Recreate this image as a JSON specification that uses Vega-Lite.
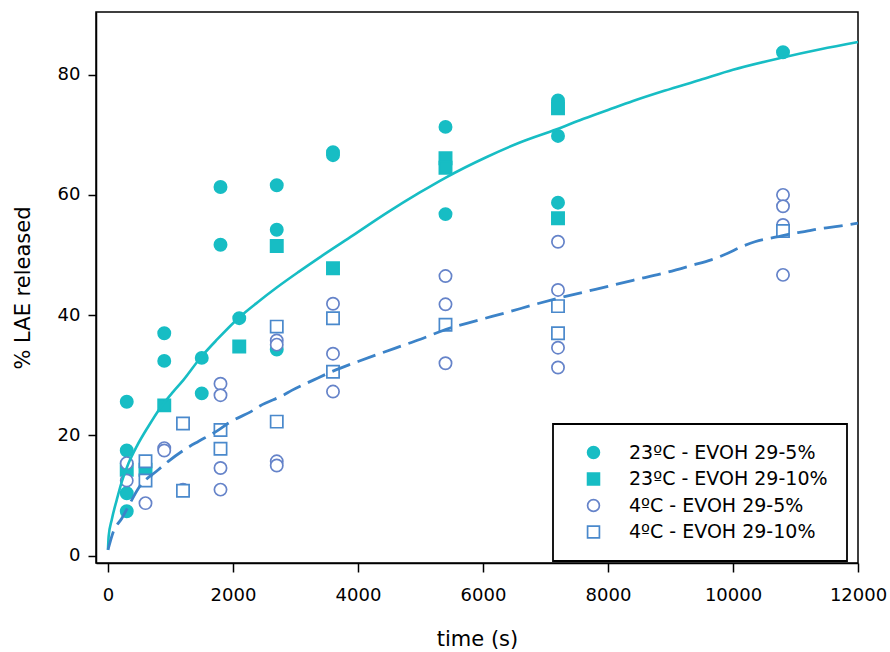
{
  "$schema": "https://vega.github.io/schema/vega-lite/v6.json",
  "width": 762,
  "height": 551,
  "autosize": "none",
  "padding": {"left": 96, "top": 12, "right": 32, "bottom": 89},
  "background": "white",
  "config": {
    "font": "DejaVu Sans",
    "view": {"stroke": "black", "strokeWidth": 1.5},
    "legend": {"strokeWidth": 1.8},
    "axis": {
      "grid": false,
      "domainColor": "black",
      "domainWidth": 1.5,
      "tickColor": "black",
      "tickWidth": 1.5,
      "labelColor": "black",
      "titleColor": "black",
      "labelFont": "DejaVu Sans",
      "titleFont": "DejaVu Sans",
      "labelFontSize": 18,
      "titleFontSize": 21,
      "titleFontWeight": "normal"
    }
  },
  "datasets": {
    "points": [
      {"t": 300, "v": 25.6, "series": "23ºC - EVOH 29-5%"},
      {"t": 300, "v": 17.5, "series": "23ºC - EVOH 29-5%"},
      {"t": 300, "v": 10.4, "series": "23ºC - EVOH 29-5%"},
      {"t": 300, "v": 7.4, "series": "23ºC - EVOH 29-5%"},
      {"t": 900, "v": 37.0, "series": "23ºC - EVOH 29-5%"},
      {"t": 900, "v": 32.4, "series": "23ºC - EVOH 29-5%"},
      {"t": 1500, "v": 32.9, "series": "23ºC - EVOH 29-5%"},
      {"t": 1500, "v": 27.0, "series": "23ºC - EVOH 29-5%"},
      {"t": 1800, "v": 61.3, "series": "23ºC - EVOH 29-5%"},
      {"t": 1800, "v": 51.7, "series": "23ºC - EVOH 29-5%"},
      {"t": 2100, "v": 39.5, "series": "23ºC - EVOH 29-5%"},
      {"t": 2700, "v": 61.6, "series": "23ºC - EVOH 29-5%"},
      {"t": 2700, "v": 54.2, "series": "23ºC - EVOH 29-5%"},
      {"t": 2700, "v": 34.3, "series": "23ºC - EVOH 29-5%"},
      {"t": 3600, "v": 67.1, "series": "23ºC - EVOH 29-5%"},
      {"t": 3600, "v": 66.6, "series": "23ºC - EVOH 29-5%"},
      {"t": 5400, "v": 71.3, "series": "23ºC - EVOH 29-5%"},
      {"t": 5400, "v": 56.8, "series": "23ºC - EVOH 29-5%"},
      {"t": 7200, "v": 75.7, "series": "23ºC - EVOH 29-5%"},
      {"t": 7200, "v": 69.8, "series": "23ºC - EVOH 29-5%"},
      {"t": 7200, "v": 58.7, "series": "23ºC - EVOH 29-5%"},
      {"t": 10800, "v": 83.7, "series": "23ºC - EVOH 29-5%"},
      {"t": 300, "v": 14.3, "series": "23ºC - EVOH 29-10%"},
      {"t": 600, "v": 14.3, "series": "23ºC - EVOH 29-10%"},
      {"t": 900, "v": 25.0, "series": "23ºC - EVOH 29-10%"},
      {"t": 2100, "v": 34.8, "series": "23ºC - EVOH 29-10%"},
      {"t": 2700, "v": 51.5, "series": "23ºC - EVOH 29-10%"},
      {"t": 3600, "v": 47.8, "series": "23ºC - EVOH 29-10%"},
      {"t": 5400, "v": 66.1, "series": "23ºC - EVOH 29-10%"},
      {"t": 5400, "v": 64.5, "series": "23ºC - EVOH 29-10%"},
      {"t": 7200, "v": 74.4, "series": "23ºC - EVOH 29-10%"},
      {"t": 7200, "v": 56.1, "series": "23ºC - EVOH 29-10%"},
      {"t": 300, "v": 15.4, "series": "4ºC - EVOH 29-5%"},
      {"t": 300, "v": 12.5, "series": "4ºC - EVOH 29-5%"},
      {"t": 600, "v": 8.75, "series": "4ºC - EVOH 29-5%"},
      {"t": 900, "v": 17.9, "series": "4ºC - EVOH 29-5%"},
      {"t": 900, "v": 17.5, "series": "4ºC - EVOH 29-5%"},
      {"t": 1200, "v": 11.0, "series": "4ºC - EVOH 29-5%"},
      {"t": 1800, "v": 28.6, "series": "4ºC - EVOH 29-5%"},
      {"t": 1800, "v": 26.7, "series": "4ºC - EVOH 29-5%"},
      {"t": 1800, "v": 14.6, "series": "4ºC - EVOH 29-5%"},
      {"t": 1800, "v": 11.0, "series": "4ºC - EVOH 29-5%"},
      {"t": 2700, "v": 35.8, "series": "4ºC - EVOH 29-5%"},
      {"t": 2700, "v": 35.1, "series": "4ºC - EVOH 29-5%"},
      {"t": 2700, "v": 15.7, "series": "4ºC - EVOH 29-5%"},
      {"t": 2700, "v": 15.0, "series": "4ºC - EVOH 29-5%"},
      {"t": 3600, "v": 41.9, "series": "4ºC - EVOH 29-5%"},
      {"t": 3600, "v": 33.6, "series": "4ºC - EVOH 29-5%"},
      {"t": 3600, "v": 27.3, "series": "4ºC - EVOH 29-5%"},
      {"t": 5400, "v": 46.5, "series": "4ºC - EVOH 29-5%"},
      {"t": 5400, "v": 41.8, "series": "4ºC - EVOH 29-5%"},
      {"t": 5400, "v": 32.0, "series": "4ºC - EVOH 29-5%"},
      {"t": 7200, "v": 52.2, "series": "4ºC - EVOH 29-5%"},
      {"t": 7200, "v": 44.2, "series": "4ºC - EVOH 29-5%"},
      {"t": 7200, "v": 34.6, "series": "4ºC - EVOH 29-5%"},
      {"t": 7200, "v": 31.3, "series": "4ºC - EVOH 29-5%"},
      {"t": 10800, "v": 60.0, "series": "4ºC - EVOH 29-5%"},
      {"t": 10800, "v": 58.1, "series": "4ºC - EVOH 29-5%"},
      {"t": 10800, "v": 55.0, "series": "4ºC - EVOH 29-5%"},
      {"t": 10800, "v": 46.7, "series": "4ºC - EVOH 29-5%"},
      {"t": 600, "v": 15.7, "series": "4ºC - EVOH 29-10%"},
      {"t": 600, "v": 12.5, "series": "4ºC - EVOH 29-10%"},
      {"t": 1200, "v": 22.0, "series": "4ºC - EVOH 29-10%"},
      {"t": 1200, "v": 10.8, "series": "4ºC - EVOH 29-10%"},
      {"t": 1800, "v": 20.9, "series": "4ºC - EVOH 29-10%"},
      {"t": 1800, "v": 17.8, "series": "4ºC - EVOH 29-10%"},
      {"t": 2700, "v": 38.1, "series": "4ºC - EVOH 29-10%"},
      {"t": 2700, "v": 22.3, "series": "4ºC - EVOH 29-10%"},
      {"t": 3600, "v": 39.5, "series": "4ºC - EVOH 29-10%"},
      {"t": 3600, "v": 30.6, "series": "4ºC - EVOH 29-10%"},
      {"t": 5400, "v": 38.4, "series": "4ºC - EVOH 29-10%"},
      {"t": 7200, "v": 41.5, "series": "4ºC - EVOH 29-10%"},
      {"t": 7200, "v": 37.0, "series": "4ºC - EVOH 29-10%"},
      {"t": 10800, "v": 54.0, "series": "4ºC - EVOH 29-10%"}
    ],
    "fit23": [
      {"t": 0, "v": 1.0}, {"t": 10, "v": 3.2}, {"t": 60, "v": 6.0}, {"t": 140, "v": 9.3},
      {"t": 220, "v": 12.3}, {"t": 325, "v": 15.3}, {"t": 460, "v": 18.2}, {"t": 645, "v": 21.5},
      {"t": 830, "v": 24.5}, {"t": 1045, "v": 27.3}, {"t": 1205, "v": 29.2}, {"t": 1470, "v": 32.8},
      {"t": 1750, "v": 36.0}, {"t": 2085, "v": 39.5}, {"t": 2400, "v": 42.2}, {"t": 2700, "v": 44.6},
      {"t": 3050, "v": 47.2}, {"t": 3400, "v": 49.7}, {"t": 3925, "v": 53.3}, {"t": 4460, "v": 57.0},
      {"t": 4990, "v": 60.4}, {"t": 5390, "v": 62.8}, {"t": 6060, "v": 66.3}, {"t": 6590, "v": 68.7},
      {"t": 7180, "v": 70.9}, {"t": 7550, "v": 72.4}, {"t": 8000, "v": 74.1}, {"t": 8400, "v": 75.6},
      {"t": 8900, "v": 77.3}, {"t": 9470, "v": 79.1}, {"t": 10000, "v": 80.8}, {"t": 10780, "v": 82.8},
      {"t": 11400, "v": 84.2}, {"t": 12000, "v": 85.4}
    ],
    "fit4": [
      {"t": 0, "v": 1.0}, {"t": 85, "v": 4.0}, {"t": 220, "v": 6.2}, {"t": 325, "v": 8.2},
      {"t": 485, "v": 11.2}, {"t": 805, "v": 14.3}, {"t": 965, "v": 15.7}, {"t": 1310, "v": 18.2},
      {"t": 1445, "v": 19.0}, {"t": 1765, "v": 20.9}, {"t": 1950, "v": 22.2}, {"t": 2325, "v": 24.2},
      {"t": 2430, "v": 24.9}, {"t": 2805, "v": 26.7}, {"t": 2940, "v": 27.5}, {"t": 3285, "v": 29.2},
      {"t": 3600, "v": 30.7}, {"t": 4000, "v": 32.3}, {"t": 4400, "v": 33.8}, {"t": 4700, "v": 34.9},
      {"t": 5000, "v": 36.0}, {"t": 5400, "v": 37.6}, {"t": 5900, "v": 39.1}, {"t": 6400, "v": 40.5},
      {"t": 6800, "v": 41.7}, {"t": 7200, "v": 42.8}, {"t": 7800, "v": 44.3}, {"t": 8400, "v": 45.8},
      {"t": 8900, "v": 47.0}, {"t": 9350, "v": 48.3}, {"t": 9650, "v": 49.2}, {"t": 9850, "v": 50.0},
      {"t": 10190, "v": 51.6}, {"t": 10350, "v": 52.2}, {"t": 10700, "v": 53.0}, {"t": 10910, "v": 53.5},
      {"t": 11200, "v": 54.0}, {"t": 11340, "v": 54.3}, {"t": 11700, "v": 54.8}, {"t": 12000, "v": 55.3}
    ]
  },
  "layer": [
    {
      "data": {"name": "points"},
      "mark": {"type": "point", "size": 150, "strokeWidth": 1.7, "opacity": 1},
      "encoding": {
        "x": {
          "field": "t", "type": "quantitative",
          "scale": {"domain": [-192, 12000], "nice": false, "zero": false},
          "axis": {"values": [0, 2000, 4000, 6000, 8000, 10000, 12000], "title": "time (s)", "tickSize": 9, "labelPadding": 14, "titlePadding": 24, "format": "d", "labelFlush": false}
        },
        "y": {
          "field": "v", "type": "quantitative",
          "scale": {"domain": [-1.2, 90.4], "nice": false, "zero": false},
          "axis": {"values": [0, 20, 40, 60, 80], "title": "% LAE released", "tickSize": 8, "labelPadding": 8, "titlePadding": 24}
        },
        "shape": {
          "field": "series", "type": "nominal",
          "scale": {"domain": ["23ºC - EVOH 29-5%", "23ºC - EVOH 29-10%", "4ºC - EVOH 29-5%", "4ºC - EVOH 29-10%"], "range": ["circle", "square", "circle", "square"]},
          "legend": {
            "title": null,
            "orient": "none",
            "legendX": 457,
            "legendY": 412,
            "padding": 19,
            "strokeColor": "black",
            "fillColor": "white",
            "symbolSize": 140,
            "symbolStrokeWidth": 1.7,
            "symbolOffset": 12,
            "labelOffset": 26,
            "labelFontSize": 19,
            "labelFont": "DejaVu Sans",
            "labelColor": "black",
            "rowPadding": 6.5,
            "labelLimit": 400
          }
        },
        "fill": {
          "field": "series", "type": "nominal",
          "scale": {"domain": ["23ºC - EVOH 29-5%", "23ºC - EVOH 29-10%", "4ºC - EVOH 29-5%", "4ºC - EVOH 29-10%"], "range": ["#17bdc4", "#17bdc4", "white", "white"]}
        },
        "stroke": {
          "field": "series", "type": "nominal",
          "scale": {"domain": ["23ºC - EVOH 29-5%", "23ºC - EVOH 29-10%", "4ºC - EVOH 29-5%", "4ºC - EVOH 29-10%"], "range": ["#17bdc4", "#17bdc4", "#6583c9", "#4a89cc"]}
        }
      }
    },
    {
      "data": {"name": "fit23"},
      "mark": {"type": "line", "color": "#17bdc4", "strokeWidth": 2.6, "interpolate": "monotone"},
      "encoding": {
        "x": {"field": "t", "type": "quantitative"},
        "y": {"field": "v", "type": "quantitative"}
      }
    },
    {
      "data": {"name": "fit4"},
      "mark": {"type": "line", "color": "#3c83c8", "strokeWidth": 2.8, "strokeDash": [19, 8], "interpolate": "monotone"},
      "encoding": {
        "x": {"field": "t", "type": "quantitative"},
        "y": {"field": "v", "type": "quantitative"}
      }
    }
  ]
}
